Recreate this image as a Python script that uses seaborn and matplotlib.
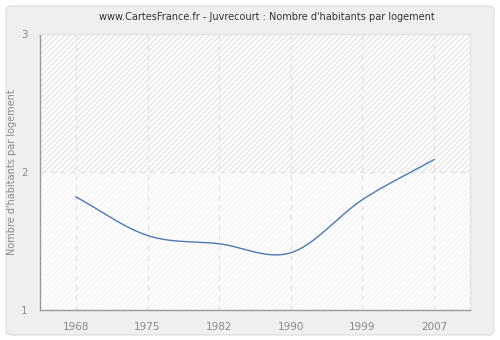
import numpy as np
import pandas as pd
import matplotlib
matplotlib.use("Agg")
import matplotlib.pyplot as plt
from matplotlib.patches import FancyBboxPatch, Rectangle
import seaborn as sns

# Census years and average number of inhabitants per dwelling
years = ["1968", "1975", "1982", "1990", "1999", "2007"]
values = [1.82, 1.54, 1.48, 1.415, 1.80, 2.09]
y_ticks = [1, 2, 3]

title = "www.CartesFrance.fr - Juvrecourt : Nombre d'habitants par logement"
y_label = "Nombre d'habitants par logement"


def cardinal_spline(y, steps=40):
    """Smooth curve through points placed at integer positions (Catmull-Rom)."""
    y = np.asarray(y, dtype=float)
    n = len(y)
    t = np.zeros(n)
    for i in range(n):
        if i == 0:
            t[i] = y[1] - y[0]
        elif i == n - 1:
            t[i] = y[-1] - y[-2]
        else:
            t[i] = (y[i + 1] - y[i - 1]) / 2.0
    xs, ys = [], []
    for i in range(n - 1):
        s = np.linspace(0, 1, steps, endpoint=(i == n - 2))
        h00 = 2 * s**3 - 3 * s**2 + 1
        h10 = s**3 - 2 * s**2 + s
        h01 = -2 * s**3 + 3 * s**2
        h11 = s**3 - s**2
        xs.append(i + s)
        ys.append(h00 * y[i] + h10 * t[i] + h01 * y[i + 1] + h11 * t[i + 1])
    return np.concatenate(xs), np.concatenate(ys)


sx, sy = cardinal_spline(values)
curve = pd.DataFrame({"pos": sx, "val": sy})

sns.set_theme(style="white")
plt.rcParams["font.family"] = ["DejaVu Sans"]

fig = plt.figure(figsize=(5, 3.4), dpi=100)
fig.patch.set_facecolor("white")

# rounded panel behind the chart
panel = FancyBboxPatch((6 / 500, 5 / 340), 488 / 500, 329 / 340,
                       boxstyle="round,pad=0,rounding_size=0.012",
                       transform=fig.transFigure, facecolor="#efefef",
                       edgecolor="#e2e2e2", linewidth=1.0, zorder=-10)
fig.patches.append(panel)

ax = fig.add_axes([40 / 500, 30 / 340, 430 / 500, 276 / 340])
ax.set_zorder(1)
ax.set_facecolor("white")
ax.set_xlim(-0.5, 5.5)
ax.set_ylim(1, 3)

# hatched plot background, lighter below the middle gridline
ax.add_patch(Rectangle((-0.5, 1), 6, 2, facecolor="white", edgecolor="#e6e6e6",
                       hatch="//////", linewidth=0, zorder=0))
ax.add_patch(Rectangle((-0.5, 1), 6, 1, facecolor="white", alpha=0.55,
                       linewidth=0, zorder=0.5))

for i in range(len(years)):
    ax.axvline(i, color="#e0e0e0", linestyle=(0, (4, 4)), linewidth=0.9, zorder=1)
ax.axhline(2, color="#e0e0e0", linestyle=(0, (4, 4)), linewidth=0.9, zorder=1)

sns.lineplot(data=curve, x="pos", y="val", ax=ax, color="#4d79b4",
             linewidth=1.0, zorder=3, estimator=None, sort=False)

ax.set_xticks(range(len(years)))
ax.set_xticklabels(years)
ax.set_yticks(y_ticks)
ax.set_yticklabels([str(v) for v in y_ticks])
ax.set_xlabel("")
ax.set_ylabel(y_label, color="#8a8a8a", fontsize=7)
ax.yaxis.set_label_coords(-23 / 430, 0.5)
ax.tick_params(axis="both", labelsize=7.5, length=5,
               width=0.8, direction="out", pad=4)
ax.tick_params(axis="x", colors="#999999", labelcolor="#8a8a8a")
ax.tick_params(axis="y", colors="#999999", labelcolor="#8a8a8a")

for side in ("left", "bottom"):
    ax.spines[side].set_color("#999999")
    ax.spines[side].set_linewidth(1.0)
for side in ("top", "right"):
    ax.spines[side].set_color("#e4e4e4")
    ax.spines[side].set_linewidth(1.0)

fig.text(267 / 500, 1 - 17 / 340, title, ha="center", va="center",
         fontsize=7, color="#333333")

fig.savefig("out.png", dpi=100, facecolor=fig.get_facecolor())
